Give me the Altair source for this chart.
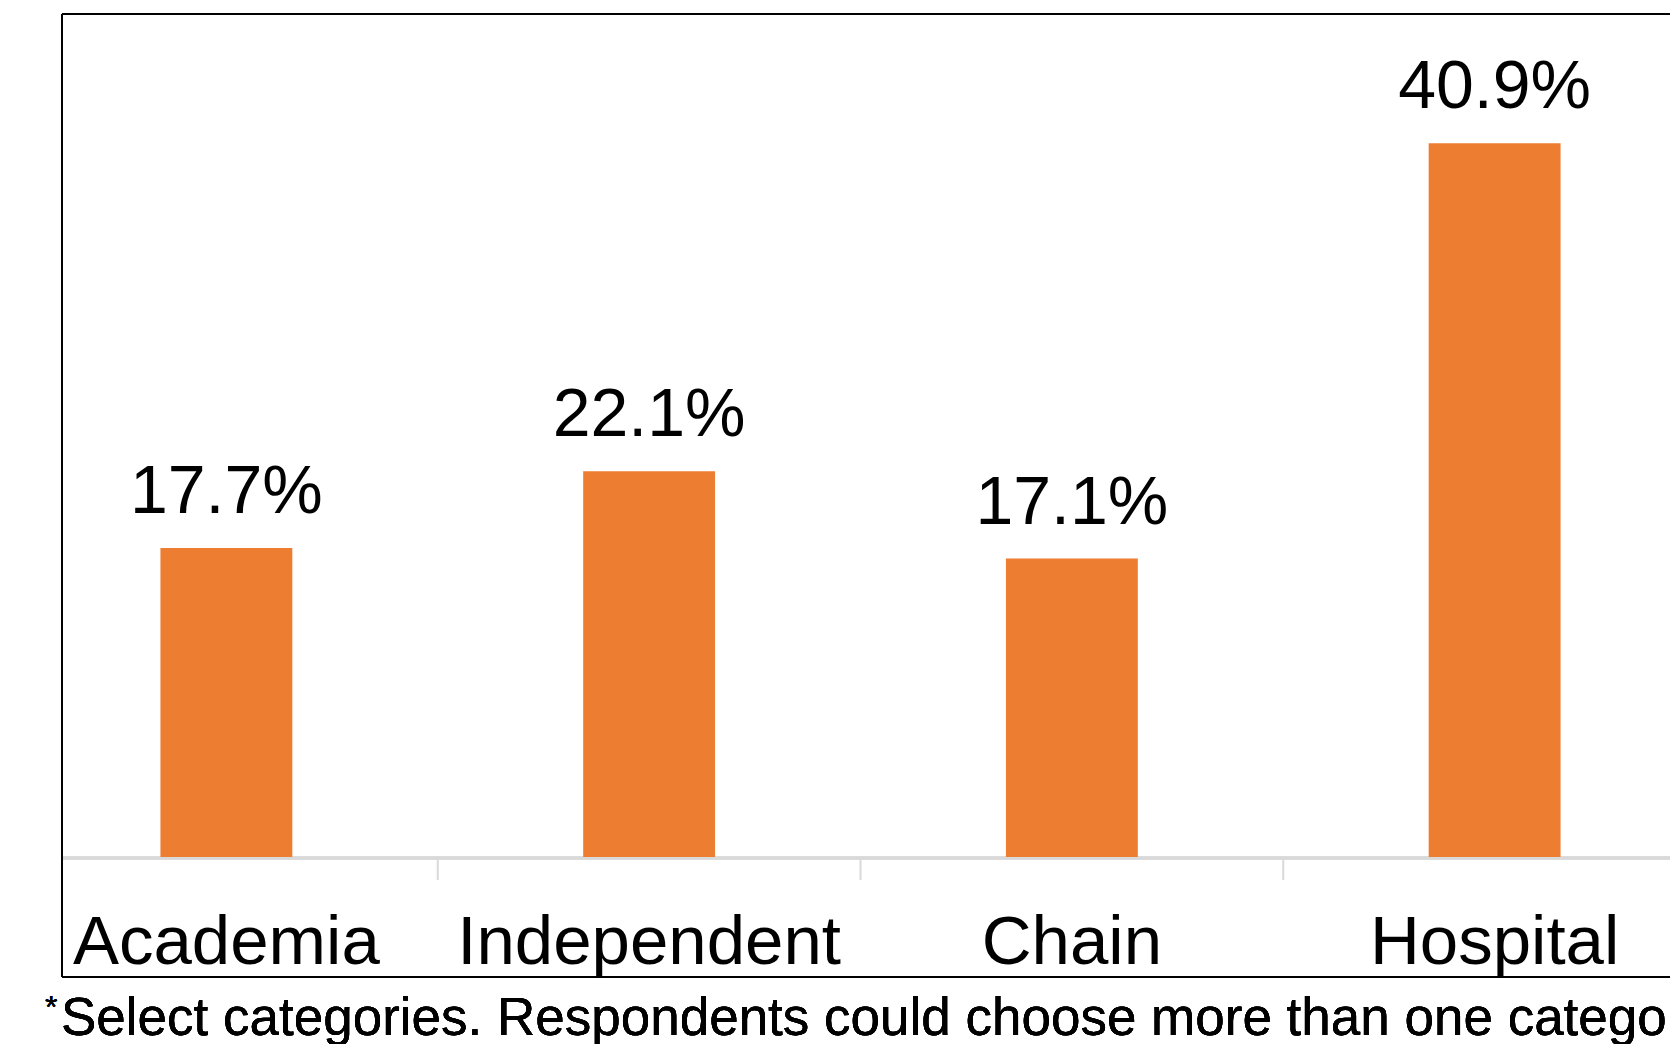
import altair as alt
import pandas as pd

# ---- data ----
categories = ["Academia", "Independent", "Chain", "Hospital"]
shares = [17.7, 22.1, 17.1, 40.9]
divider_categories = ["Independent", "Chain", "Hospital"]
footnote_mark = "*"
footnote_text = "Select categories. Respondents could choose more than one category."

# ---- layout ----
W = 1608
H = 843
FONT = "Liberation Sans"
ORANGE = "#ED7D31"
GRAY = "#d9d9d9"

df = pd.DataFrame({"category": categories, "share": shares})
div_df = pd.DataFrame({"category": divider_categories})

band_scale = alt.Scale(domain=categories, range=[-47, 1644],
                       paddingInner=0.688, paddingOuter=0.344)
step_scale = alt.Scale(domain=categories, range=[-47, 1644],
                       paddingInner=0, paddingOuter=0)
yscale = alt.Scale(domain=[0, 48.3])

X = alt.X("category:N", scale=band_scale, axis=None, sort=categories)

base = alt.Chart(df)

baseline = base.mark_rule(color=GRAY, strokeWidth=3).encode(
    x=alt.value(0), x2=alt.value(W), y=alt.value(H + 1)
)

ticks = alt.Chart(div_df).mark_rule(color=GRAY, strokeWidth=2).encode(
    x=alt.X("category:N", scale=step_scale, axis=None, bandPosition=0),
    y=alt.value(H), y2=alt.value(H + 23)
)

bars = base.mark_bar(color=ORANGE).encode(
    x=X,
    y=alt.Y("share:Q", scale=yscale, axis=None),
)

values = base.transform_calculate(
    label="format(datum.share, '.1f') + '%'"
).mark_text(font=FONT, fontSize=68, baseline="alphabetic", dy=-35,
            color="#000000").encode(
    x=X,
    y=alt.Y("share:Q", scale=yscale, axis=None),
    text="label:N",
)

cat_labels = base.mark_text(font=FONT, fontSize=69, baseline="alphabetic",
                            color="#000000").encode(
    x=X,
    y=alt.value(H + 107),
    text="category:N",
)

frame_top = base.mark_rule(color="#000000", strokeWidth=1.5).encode(
    x=alt.value(0), x2=alt.value(W), y=alt.value(0)
)
frame_bottom = base.mark_rule(color="#000000", strokeWidth=1.5).encode(
    x=alt.value(0), x2=alt.value(W), y=alt.value(963)
)
frame_left = base.mark_rule(color="#000000", strokeWidth=1.5).encode(
    x=alt.value(0), y=alt.value(0), y2=alt.value(963)
)

foot = base.mark_text(font=FONT, fontSize=53, align="left",
                      baseline="alphabetic", color="#000000").encode(
    x=alt.value(-1), y=alt.value(1021), text=alt.value(footnote_text)
)
star = base.mark_text(font=FONT, fontSize=32, align="left",
                      baseline="alphabetic", color="#000000").encode(
    x=alt.value(-17), y=alt.value(1004), text=alt.value(footnote_mark)
)

chart = alt.layer(
    baseline, ticks, bars, values, cat_labels,
    frame_top, frame_bottom, frame_left, foot, star
).resolve_scale(x="independent").properties(
    width=W, height=H,
    autosize=alt.AutoSizeParams(type="none"),
    padding={"left": 54, "top": 6, "right": 0, "bottom": 187},
    background="white",
).configure_view(strokeWidth=0)

chart.save("out.html", embed_options={"renderer": "svg", "actions": False})
